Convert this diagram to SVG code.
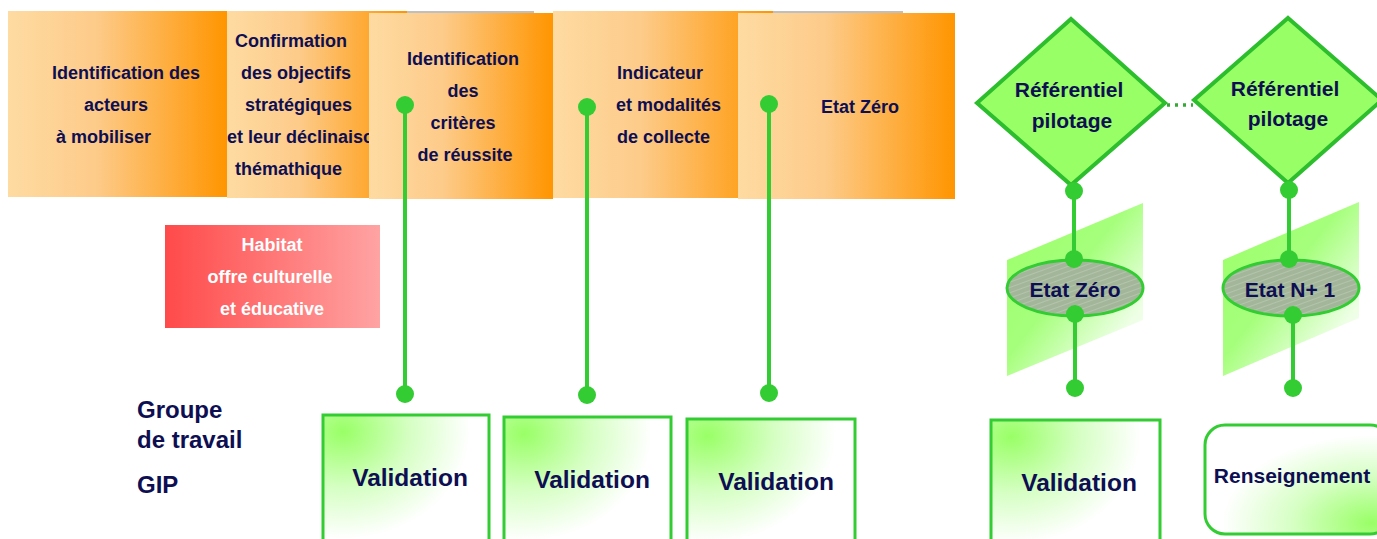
<svg xmlns="http://www.w3.org/2000/svg" width="1377" height="539" viewBox="0 0 1377 539">
<defs>
<linearGradient id="gOr" x1="0" y1="0" x2="1" y2="0">
<stop offset="0" stop-color="#FEDBA2"/>
<stop offset="0.4" stop-color="#FDCB8A"/>
<stop offset="1" stop-color="#FF9500"/>
</linearGradient>
<linearGradient id="gRed" x1="0" y1="0" x2="1" y2="0">
<stop offset="0" stop-color="#FF4A4A"/>
<stop offset="1" stop-color="#FFA3A3"/>
</linearGradient>
<radialGradient id="gVal" cx="0.12" cy="0.12" r="0.9">
<stop offset="0" stop-color="#99FF66"/>
<stop offset="0.45" stop-color="#D6FFC4"/>
<stop offset="0.85" stop-color="#FFFFFF"/>
</radialGradient>
<radialGradient id="gRen" cx="0.9" cy="0.9" r="0.95">
<stop offset="0" stop-color="#99FF66"/>
<stop offset="0.45" stop-color="#D6FFC4"/>
<stop offset="0.85" stop-color="#FFFFFF"/>
</radialGradient>
<linearGradient id="gPar" x1="0" y1="0" x2="1" y2="1">
<stop offset="0" stop-color="#99FF66"/>
<stop offset="0.45" stop-color="#A6FF7C"/>
<stop offset="0.8" stop-color="#EEFFE6"/>
<stop offset="1" stop-color="#F6FFF2"/>
</linearGradient>
<pattern id="hatch" width="5" height="5" patternUnits="userSpaceOnUse" patternTransform="rotate(-20)">
<rect width="5" height="5" fill="#A3B69A"/>
<line x1="0" y1="0" x2="5" y2="0" stroke="#C4D2BE" stroke-width="1"/>
</pattern>
<style>
.t{font-family:"Liberation Sans",Arial,sans-serif;font-weight:bold;fill:#0E0E52;}
.s18{font-size:18px;}
.s21{font-size:21px;}
.s24{font-size:24px;}
.s245{font-size:24.5px;}
.w{fill:#FFFFFF;}
.m{text-anchor:middle;}
.or{fill:url(#gOr);}
.val{fill:url(#gVal);stroke:#33CC33;stroke-width:3;}
.ren{fill:url(#gRen);stroke:#33CC33;stroke-width:3;}
.dia{fill:#99FF66;stroke:#2DBE2D;stroke-width:4;}
.par{fill:url(#gPar);}
.ell{fill:url(#hatch);stroke:#33CC33;stroke-width:3;}
.ln{stroke:#33CC33;stroke-width:4;fill:none;}
.dot{fill:#33CC33;}
.gl{stroke:#AAAAAA;stroke-width:1.5;}
</style>
</defs>

<g id="box1">
<rect class="or" x="8" y="11" width="219" height="186"/>
<text class="t s18" x="52" y="79">Identification des</text>
<text class="t s18" x="84" y="111">acteurs</text>
<text class="t s18" x="56" y="143">à mobiliser</text>
</g>
<g id="box2">
<rect class="or" x="227" y="11" width="180" height="187"/>
<text class="t s18" x="235" y="47">Confirmation</text>
<text class="t s18" x="241" y="79">des objectifs</text>
<text class="t s18" x="245" y="111">stratégiques</text>
<text class="t s18" x="227" y="143">et leur déclinaison</text>
<text class="t s18" x="235" y="175">thémathique</text>
</g>
<line class="gl" x1="407" y1="12" x2="534" y2="12"/>
<g id="box3">
<rect class="or" x="369" y="13" width="184" height="186"/>
<text class="t s18 m" x="463" y="65">Identification</text>
<text class="t s18 m" x="463" y="97">des</text>
<text class="t s18 m" x="463" y="129">critères</text>
<text class="t s18 m" x="465" y="161">de réussite</text>
</g>
<g id="box4">
<rect class="or" x="553" y="11" width="220" height="187"/>
<text class="t s18" x="617" y="79">Indicateur</text>
<text class="t s18" x="616" y="111">et modalités</text>
<text class="t s18" x="617" y="143">de collecte</text>
</g>
<line class="gl" x1="773" y1="12" x2="903" y2="12"/>
<g id="box5">
<rect class="or" x="738" y="13" width="217" height="186"/>
<text class="t s18" x="821" y="113">Etat Zéro</text>
</g>

<g id="habitat">
<rect x="165" y="225" width="215" height="103" fill="url(#gRed)"/>
<text class="t s18 w m" x="272" y="251">Habitat</text>
<text class="t s18 w m" x="270" y="283">offre culturelle</text>
<text class="t s18 w m" x="272" y="315">et éducative</text>
</g>

<g id="groupe">
<text class="t s24" x="137" y="418">Groupe</text>
<text class="t s24" x="137" y="448">de travail</text>
<text class="t s24" x="137" y="493">GIP</text>
</g>

<g id="validation1">
<rect class="val" x="323" y="415" width="166" height="140"/>
<text class="t s245 m" x="410" y="486">Validation</text>
</g>
<g id="validation2">
<rect class="val" x="504" y="417" width="167" height="140"/>
<text class="t s245 m" x="592" y="488">Validation</text>
</g>
<g id="validation3">
<rect class="val" x="687" y="419" width="168" height="140"/>
<text class="t s245 m" x="776" y="490">Validation</text>
</g>

<g id="plan1">
<polygon class="par" points="1007,260 1143,203 1143,320 1007,376"/>
</g>
<g id="plan2">
<polygon class="par" points="1223,260 1359,202 1359,318 1223,376"/>
</g>

<g id="connectors">
<line class="ln" x1="405" y1="105" x2="405" y2="394"/>
<circle class="dot" cx="405" cy="105" r="9"/>
<circle class="dot" cx="405" cy="394" r="9"/>
<line class="ln" x1="587" y1="107" x2="587" y2="395"/>
<circle class="dot" cx="587" cy="107" r="9"/>
<circle class="dot" cx="587" cy="395" r="9"/>
<line class="ln" x1="769" y1="104" x2="769" y2="393"/>
<circle class="dot" cx="769" cy="104" r="9"/>
<circle class="dot" cx="769" cy="393" r="9"/>
<line x1="1167" y1="105" x2="1193" y2="105" stroke="#33AA33" stroke-width="3.5" stroke-dasharray="3 5"/>
<line class="ln" x1="1074" y1="191" x2="1074" y2="259"/>
<line class="ln" x1="1075" y1="314" x2="1075" y2="388"/>
<line class="ln" x1="1289" y1="190" x2="1289" y2="259"/>
<line class="ln" x1="1293" y1="315" x2="1293" y2="388"/>
</g>

<g id="diamond1">
<polygon class="dia" points="1071,19 1165,103 1071,185 977,103"/>
<text class="t s21 m" x="1069" y="97">Référentiel</text>
<text class="t s21 m" x="1072" y="128">pilotage</text>
</g>
<g id="diamond2">
<polygon class="dia" points="1288,18 1382,100 1288,183 1194,100"/>
<text class="t s21 m" x="1285" y="96">Référentiel</text>
<text class="t s21 m" x="1288" y="126">pilotage</text>
</g>

<g id="etat0">
<ellipse class="ell" cx="1075" cy="288" rx="68" ry="28"/>
<text class="t s21 m" x="1075" y="297">Etat Zéro</text>
</g>
<g id="etatN1">
<ellipse class="ell" cx="1291" cy="288" rx="68" ry="28"/>
<text class="t s21 m" x="1290" y="297">Etat N+ 1</text>
</g>

<g id="dots-right">
<circle class="dot" cx="1074" cy="191" r="9"/>
<circle class="dot" cx="1074" cy="259" r="9"/>
<circle class="dot" cx="1075" cy="314" r="9"/>
<circle class="dot" cx="1075" cy="388" r="9"/>
<circle class="dot" cx="1289" cy="190" r="9"/>
<circle class="dot" cx="1289" cy="259" r="9"/>
<circle class="dot" cx="1293" cy="315" r="9"/>
<circle class="dot" cx="1293" cy="388" r="9"/>
</g>

<g id="validation4">
<rect class="val" x="991" y="420" width="169" height="140"/>
<text class="t s245 m" x="1079" y="491">Validation</text>
</g>
<g id="renseignement">
<rect class="ren" x="1205" y="425" width="185" height="109" rx="20" ry="20"/>
<text class="t s21 m" x="1292" y="483">Renseignement</text>
</g>
</svg>
